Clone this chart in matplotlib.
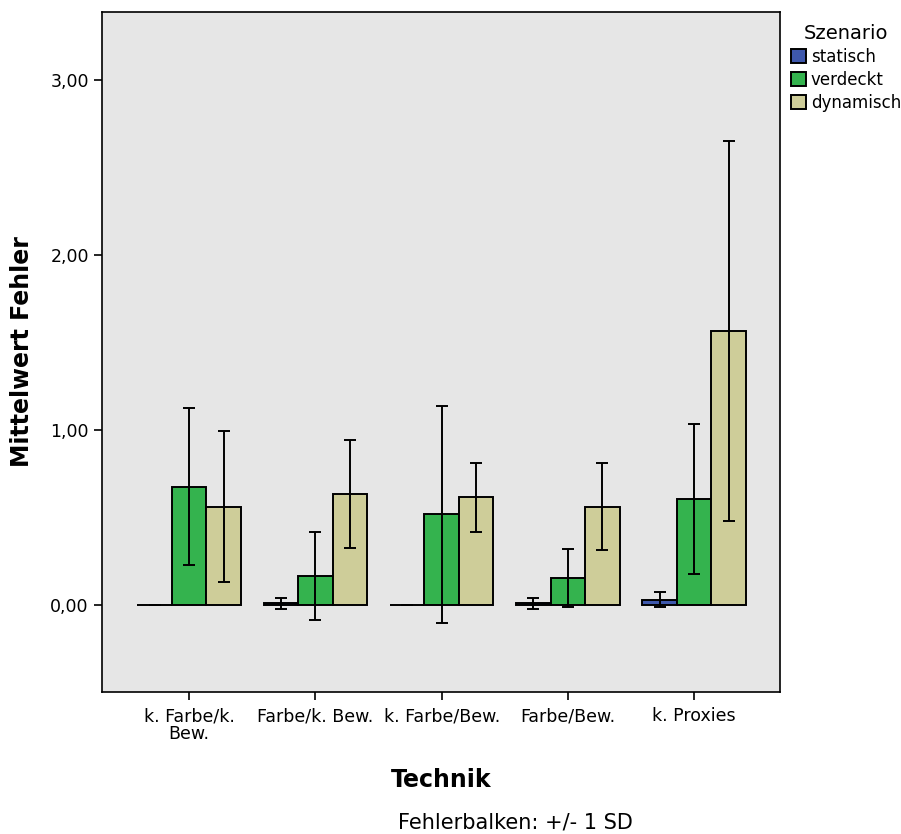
"""
Mean error per technique and scenario, with +/- 1 SD error bars.
"""

import numpy as np
import matplotlib
matplotlib.use("Agg")
import matplotlib.pyplot as plt

techniken = ["k. Farbe/k.\nBew.", "Farbe/k. Bew.", "k. Farbe/Bew.", "Farbe/Bew.", "k. Proxies"]
szenarien = ["statisch", "verdeckt", "dynamisch"]

mean_statisch = [0.0, 0.01, 0.0, 0.01, 0.03]
mean_verdeckt = [0.676, 0.166, 0.52, 0.154, 0.606]
mean_dynamisch = [0.562, 0.634, 0.615, 0.562, 1.567]

sd_statisch = [0.0, 0.03, 0.0, 0.03, 0.044]
sd_verdeckt = [0.45, 0.25, 0.62, 0.165, 0.43]
sd_dynamisch = [0.43, 0.31, 0.195, 0.25, 1.085]

colors = ["#3E58AC", "#34B34E", "#CECD99"]

plt.rcParams["font.family"] = ["DejaVu Sans"]

fig = plt.figure(figsize=(9.01, 8.34), dpi=100)
ax = fig.add_axes([0.1132, 0.1703, 0.7525, 0.8153])
ax.set_facecolor("#E6E6E6")

x = np.arange(len(techniken))
width = 0.273
means = [mean_statisch, mean_verdeckt, mean_dynamisch]
sds = [sd_statisch, sd_verdeckt, sd_dynamisch]

for i, (name, m, s) in enumerate(zip(szenarien, means, sds)):
    ax.bar(x + (i - 1) * width, m, width, color=colors[i], edgecolor="black",
           linewidth=1.4, label=name, zorder=2)
    ax.errorbar(x + (i - 1) * width, m, yerr=s, fmt="none", ecolor="black",
                elinewidth=1.4, capsize=4, capthick=1.4, zorder=3)

ax.set_xlim(-0.69, 4.68)
ax.set_ylim(-0.497, 3.389)
ax.set_yticks([0, 1, 2, 3])
ax.set_yticklabels(["0,00", "1,00", "2,00", "3,00"], fontsize=12.5)
ax.set_xticks(x)
ax.set_xticklabels(techniken, fontsize=12.5, linespacing=0.95)
ax.tick_params(axis="both", direction="out", length=6, width=1.2, color="black")
ax.tick_params(axis="x", pad=5)
for sp in ax.spines.values():
    sp.set_linewidth(1.2)

ax.set_ylabel("Mittelwert Fehler", fontsize=17, fontweight="bold", labelpad=12)
ax.set_xlabel("Technik", fontsize=17, fontweight="bold", labelpad=18)

fig.text(515 / 901, 1 - 823 / 834, "Fehlerbalken: +/- 1 SD", fontsize=15,
         ha="center", va="center")

leg = fig.legend(loc="upper left", bbox_to_anchor=(779 / 901, 1 - 12 / 834),
                 frameon=False, title="Szenario", title_fontsize=14, fontsize=12,
                 handlelength=0.9, handleheight=0.9, handletextpad=0.3,
                 labelspacing=0.3, borderpad=0.2)

fig.savefig("out.png", dpi=100)
